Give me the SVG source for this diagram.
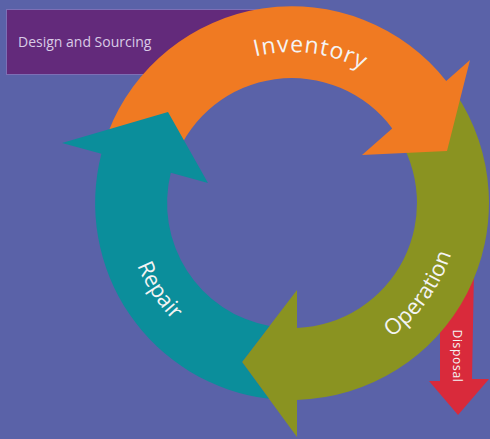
<svg xmlns="http://www.w3.org/2000/svg" width="490" height="439" viewBox="0 0 490 439">
  <style>
    .lbl { font-family: "Open Sans", "Liberation Sans", sans-serif; fill: #f4f4f4; }
    .big { font-size: 22px; }
  </style>
  <defs>
    <path id="pInv" d="M157.5,134.4 A151,151 0 0 1 439.1,169.0"/>
    <path id="pOp" d="M247.1,363.9 A167,167 0 0 0 429.8,108.6"/>
    <path id="pRep" d="M158.1,103.2 A167,167 0 0 0 330.4,365.5"/>
  </defs>
  <rect x="0" y="0" width="490" height="439" fill="#5a62a8"/>

  <g id="node-disposal">
    <path d="M440,300 L474,270 L472,379 L489,379 L458,415 L429,381 L440,381 Z" fill="#d92a3b"/>
    <text class="lbl" font-size="12" letter-spacing="0.7" text-anchor="middle" transform="translate(453,356) rotate(90)">Disposal</text>
  </g>

  <g id="node-design">
    <rect x="6.5" y="9.5" width="270" height="65" fill="#632a7b" stroke="#7d6fb5" stroke-width="1"/>
    <text class="lbl" x="18" y="47" font-size="14" style="fill:#d9cbe6">Design and Sourcing</text>
  </g>

  <g id="node-operation">
    <path d="M455.3,92.8 A197,197 0 0 1 297,399.9 L297,437 L242,362 L297,290 L297,327.9 A125,125 0 0 0 395.6,133.1 Z" fill="#8a9321"/>
  </g>

  <g id="node-inventory">
    <path d="M108.1,132.4 A197,197 0 0 1 446.2,80.9 L470,60 L447,151 L362,155 L392.2,128.4 A125,125 0 0 0 175.3,158.2 Z" fill="#f07a22"/>
  </g>

  <g id="node-repair">
    <path d="M268.95,398.75 A197,197 0 0 1 101.4,153.8 L62,143 L168,112 L208,183 L170.8,172.8 A125,125 0 0 0 269.5,326 L242,362 Z" fill="#0b8e9b"/>
  </g>

  <g id="labels">
    <text class="lbl" font-size="23" letter-spacing="1"><textPath href="#pInv" startOffset="50%" text-anchor="middle">Inventory</textPath></text>
    <text class="lbl big"><textPath href="#pOp" startOffset="50%" text-anchor="middle">Operation</textPath></text>
    <text class="lbl big"><textPath href="#pRep" startOffset="50%" text-anchor="middle">Repair</textPath></text>
  </g>
</svg>
